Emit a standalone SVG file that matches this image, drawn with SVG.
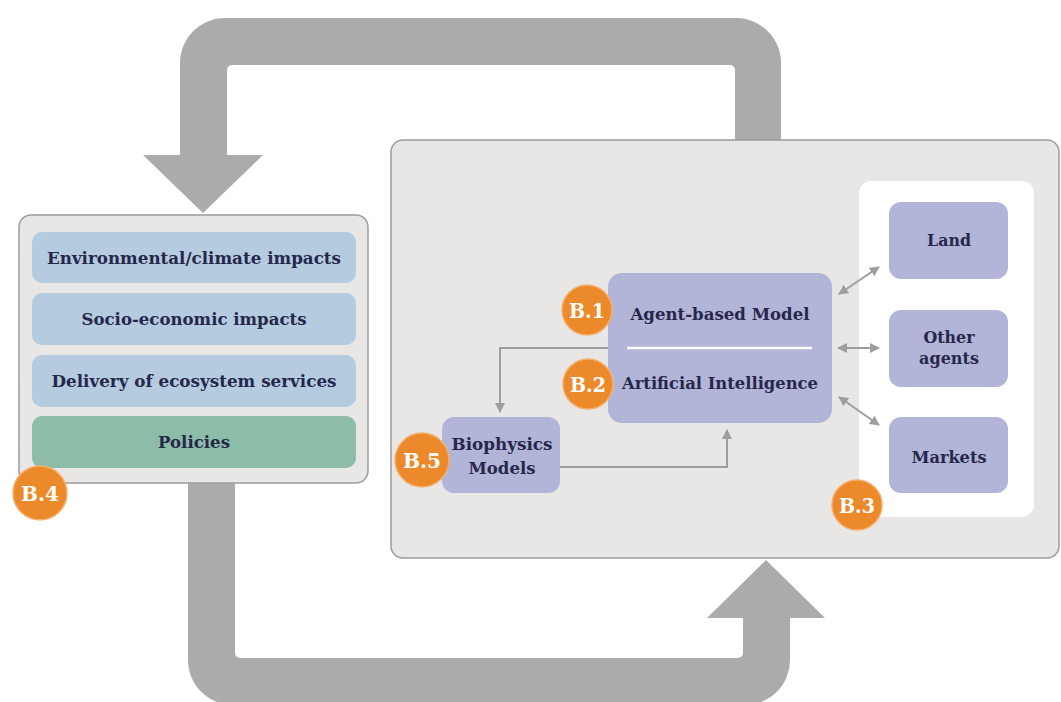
<svg xmlns="http://www.w3.org/2000/svg" width="1061" height="702" viewBox="0 0 1061 702">
<defs>
<style>
.big{fill:#ababab;}
.panel{fill:#e8e7e5;stroke:#9c9c9c;stroke-width:1.5;}
.bar{fill:#b4cbe0;}
.green{fill:#8dbda8;}
.node{fill:#b2b5d7;}
.t{font-family:"DejaVu Serif","Liberation Serif",serif;font-weight:bold;fill:#26274a;text-anchor:middle;font-size:17.5px;}
.badge{fill:#ec8a2b;stroke:#f4b070;stroke-width:1.5;}
.bt{font-family:"DejaVu Serif","Liberation Serif",serif;font-weight:bold;fill:#ffffff;text-anchor:middle;font-size:21px;}
.conn{fill:none;stroke:#9d9d9d;stroke-width:2;}
</style>
<marker id="ah" viewBox="0 0 10 10" refX="9" refY="5" markerWidth="5" markerHeight="5" orient="auto-start-reverse" markerUnits="strokeWidth">
<path d="M0,0 L10,5 L0,10 z" fill="#9d9d9d"/>
</marker>
</defs>
<rect width="1061" height="702" fill="#ffffff"/>

<g id="loop-arrows">
<path class="big" d="M781,140 L781,63 A45,45 0 0 0 736,18 L225,18 A45,45 0 0 0 180,63 L180,155 L143,155 L203,213 L263,155 L227,155 L227,70 A5,5 0 0 1 232,65 L730,65 A5,5 0 0 1 735,70 L735,140 Z"/>
<path class="big" d="M188,483 L188,660 A45,45 0 0 0 233,705 L745,705 A45,45 0 0 0 790,660 L790,618 L825,618 L766,560 L707,618 L743,618 L743,653 A5,5 0 0 1 738,658 L240,658 A5,5 0 0 1 235,653 L235,483 Z"/>
</g>

<g id="impacts-panel">
<rect class="panel" x="19" y="215" width="349" height="268" rx="12"/>
<rect class="bar" x="32" y="232" width="324" height="51" rx="10"/>
<text class="t" x="194" y="264" textLength="294" lengthAdjust="spacingAndGlyphs">Environmental/climate impacts</text>
<rect class="bar" x="32" y="293" width="324" height="52" rx="10"/>
<text class="t" x="194" y="325" textLength="225" lengthAdjust="spacingAndGlyphs">Socio-economic impacts</text>
<rect class="bar" x="32" y="355" width="324" height="52" rx="10"/>
<text class="t" x="194" y="387" textLength="285" lengthAdjust="spacingAndGlyphs">Delivery of ecosystem services</text>
<rect class="green" x="32" y="416" width="324" height="52" rx="10"/>
<text class="t" x="194" y="448" textLength="72" lengthAdjust="spacingAndGlyphs">Policies</text>
</g>

<g id="model-panel">
<rect class="panel" x="391" y="140" width="668" height="418" rx="12"/>
<rect x="859" y="181" width="175" height="336" rx="12" fill="#ffffff"/>
</g>

<g id="connectors">
<path class="conn" d="M608,348 L500,348 L500,412" marker-end="url(#ah)"/>
<path class="conn" d="M560,467 L727,467 L727,430" marker-end="url(#ah)"/>
<line class="conn" x1="839" y1="294" x2="879" y2="267" marker-start="url(#ah)" marker-end="url(#ah)"/>
<line class="conn" x1="838" y1="348" x2="879" y2="348" marker-start="url(#ah)" marker-end="url(#ah)"/>
<line class="conn" x1="839" y1="397" x2="879" y2="425" marker-start="url(#ah)" marker-end="url(#ah)"/>
</g>

<g id="agent-model">
<rect class="node" x="608" y="273" width="224" height="150" rx="14"/>
<line x1="627" y1="348" x2="812" y2="348" stroke="#ffffff" stroke-width="2.5"/>
<text class="t" x="720" y="320" textLength="179" lengthAdjust="spacingAndGlyphs">Agent-based Model</text>
<text class="t" x="720" y="389" textLength="196" lengthAdjust="spacingAndGlyphs">Artificial Intelligence</text>
</g>

<g id="biophysics">
<rect class="node" x="442" y="417" width="118" height="76" rx="12"/>
<text class="t" x="502" y="450" textLength="101" lengthAdjust="spacingAndGlyphs">Biophysics</text>
<text class="t" x="502" y="474" textLength="67" lengthAdjust="spacingAndGlyphs">Models</text>
</g>

<g id="land">
<rect class="node" x="889" y="202" width="119" height="77" rx="12"/>
<text class="t" x="949" y="246" textLength="44" lengthAdjust="spacingAndGlyphs">Land</text>
</g>
<g id="other-agents">
<rect class="node" x="889" y="310" width="119" height="77" rx="12"/>
<text class="t" x="949" y="343" textLength="51" lengthAdjust="spacingAndGlyphs">Other</text>
<text class="t" x="949" y="364" textLength="60" lengthAdjust="spacingAndGlyphs">agents</text>
</g>
<g id="markets">
<rect class="node" x="889" y="417" width="119" height="76" rx="12"/>
<text class="t" x="949" y="463" textLength="75" lengthAdjust="spacingAndGlyphs">Markets</text>
</g>

<g id="badge-b1"><circle class="badge" cx="587" cy="310" r="25"/><text class="bt" x="587" y="318" textLength="36" lengthAdjust="spacingAndGlyphs">B.1</text></g>
<g id="badge-b2"><circle class="badge" cx="588" cy="384" r="25"/><text class="bt" x="588" y="392" textLength="36" lengthAdjust="spacingAndGlyphs">B.2</text></g>
<g id="badge-b3"><circle class="badge" cx="857" cy="505" r="25"/><text class="bt" x="857" y="513" textLength="36" lengthAdjust="spacingAndGlyphs">B.3</text></g>
<g id="badge-b4"><circle class="badge" cx="40" cy="493" r="27"/><text class="bt" x="40" y="501" textLength="38" lengthAdjust="spacingAndGlyphs">B.4</text></g>
<g id="badge-b5"><circle class="badge" cx="422" cy="460" r="27"/><text class="bt" x="422" y="468" textLength="38" lengthAdjust="spacingAndGlyphs">B.5</text></g>
</svg>
